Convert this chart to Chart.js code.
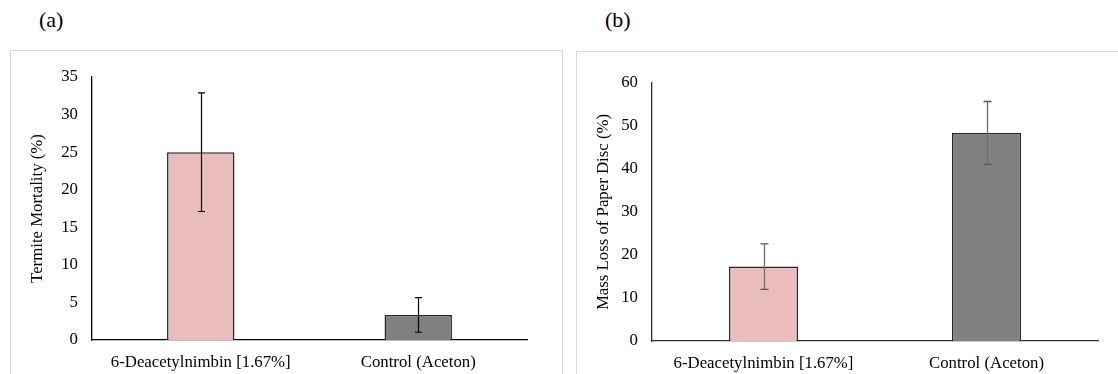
<!DOCTYPE html>
<html>
<head>
<meta charset="utf-8">
<script src="https://cdn.jsdelivr.net/npm/chart.js@4.4.1/dist/chart.umd.min.js"></script>
<style>
  html, body { margin: 0; padding: 0; background: #fff; width: 1118px; height: 374px; overflow: hidden; }
  .frame { position: absolute; border: 1px solid #d9d9d9; background: #fff; box-sizing: border-box; }
  .lbl { position: absolute; font-family: "Liberation Serif", serif; font-size: 22px; color: #000; }
  canvas { display: block; }
  .warm { position: absolute; left: -9999px; font-family: "Liberation Serif"; font-size: 16px; }
</style>
</head>
<body>
<span class="warm">0123456789 Termite Mortality</span>
<div class="lbl" style="left:39px; top:7px;">(a)</div>
<div class="lbl" style="left:605px; top:7px;">(b)</div>
<div class="frame" style="left:10px; top:50px; width:553px; height:330px;">
  <div style="position:absolute; left:0; top:0; width:551px; height:323px;"><canvas id="chartA"></canvas></div>
</div>
<div class="frame" style="left:576px; top:51px; width:545px; height:330px;">
  <div style="position:absolute; left:0; top:0; width:542px; height:322px;"><canvas id="chartB"></canvas></div>
</div>
<script>
// ---- Data ----
const categories = ["6-Deacetylnimbin [1.67%]", "Control (Aceton)"];
const mortalityValues = [25.0, 3.33];
const mortalityErrors = [7.9, 2.3];
const massLossValues = [17.3, 48.4];
const massLossErrors = [5.3, 7.3];
const mortalityTicks = [0, 5, 10, 15, 20, 25, 30, 35];
const massLossTicks = [0, 10, 20, 30, 40, 50, 60];
const barColors = ["#ebbcbc", "#808080"];

const serif = "Liberation Serif";
const fontSize = 16.8;

const errorBarPlugin = {
  id: 'errorBars',
  afterDatasetsDraw(chart, args, opts) {
    const ctx = chart.ctx;
    const meta = chart.getDatasetMeta(0);
    const ys = chart.scales.y;
    const vals = chart.data.datasets[0].data;
    const errs = opts.errors;
    ctx.save();
    meta.data.forEach((bar, i) => {
      const x = Math.round(bar.x) + 0.5;
      const yTop = ys.getPixelForValue(vals[i] + errs[i]);
      const yBot = ys.getPixelForValue(vals[i] - errs[i]);
      ctx.strokeStyle = opts.color;
      ctx.lineWidth = opts.width;
      ctx.beginPath();
      ctx.moveTo(x, yTop); ctx.lineTo(x, yBot);
      ctx.stroke();
      ctx.strokeStyle = opts.capColor;
      ctx.beginPath();
      ctx.moveTo(x - opts.cap, yTop); ctx.lineTo(x + opts.cap, yTop);
      ctx.moveTo(x - opts.cap, yBot); ctx.lineTo(x + opts.cap, yBot);
      ctx.stroke();
    });
    ctx.restore();
  }
};

function makeChart(id, values, errors, ticks, title, pad, yWidth, xHeight, errStyle, axisColor) {
  return new Chart(document.getElementById(id), {
    type: 'bar',
    data: {
      labels: categories,
      datasets: [{
        data: values,
        backgroundColor: barColors,
        borderColor: '#262626',
        borderWidth: 1.5,
        borderSkipped: 'bottom',
        categoryPercentage: 1.0,
        barPercentage: 0.31
      }]
    },
    options: {
      responsive: true,
      maintainAspectRatio: false,
      animation: false,
      events: [],
      layout: { padding: pad },
      plugins: {
        legend: { display: false },
        tooltip: { enabled: false },
        errorBars: errStyle
      },
      scales: {
        x: {
          grid: { display: false, drawTicks: false },
          border: { display: true, color: axisColor, width: 1.3 },
          ticks: { color: '#000', font: { family: serif, size: fontSize }, padding: 13, maxRotation: 0, autoSkip: false },
          afterFit(s) { s.height = xHeight; }
        },
        y: {
          min: ticks[0],
          max: ticks[ticks.length - 1],
          afterBuildTicks(s) { s.ticks = ticks.map(v => ({ value: v })); },
          grid: { display: false, drawTicks: false },
          border: { display: true, color: axisColor, width: 1.3 },
          ticks: { color: '#000', font: { family: serif, size: fontSize }, padding: 14 },
          title: { display: true, text: title, color: '#000', font: { family: serif, size: fontSize }, padding: { top: 17, bottom: 0 } },
          afterFit(s) { s.width = yWidth; }
        }
      }
    },
    plugins: [errorBarPlugin]
  });
}

function drawAll() {
  makeChart('chartA', mortalityValues, mortalityErrors, mortalityTicks, 'Termite Mortality (%)',
    { top: 26, right: 35, bottom: 0, left: 0 }, 81, 34,
    { errors: mortalityErrors, color: '#000', capColor: '#000', width: 1.2, cap: 3.5 }, '#000');

  makeChart('chartB', massLossValues, massLossErrors, massLossTicks, 'Mass Loss of Paper Disc (%)',
    { top: 31, right: 21, bottom: 0, left: 0 }, 75, 33,
    { errors: massLossErrors, color: '#6e6e6e', capColor: '#595959', width: 1.3, cap: 4 }, '#333');
}

if (document.fonts && document.fonts.load) {
  document.fonts.load('16px "Liberation Serif"').then(drawAll, drawAll);
} else {
  drawAll();
}
</script>
</body>
</html>
